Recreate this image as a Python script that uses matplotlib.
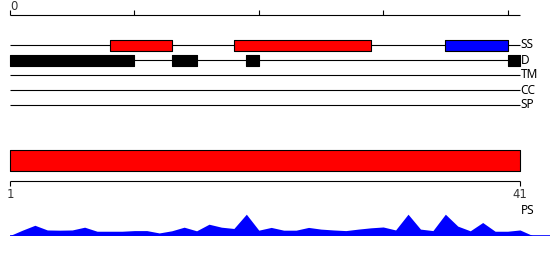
import numpy as np
import matplotlib
matplotlib.use('Agg')
import matplotlib.pyplot as plt

# sequence and track data
seq_len = 41
tracks = ['SS', 'D', 'TM', 'CC', 'SP']
top_ticks = [0, 10, 20, 30, 40]
range_labels = ['1', '41']

ss_starts = [8, 18, 35]
ss_ends = [13, 29, 40]
ss_kinds = ['helix', 'helix', 'strand']

dis_starts = [0, 13, 19, 40]
dis_ends = [10, 15, 20, 41]

ps_scores = [0.0, 0.25, 0.48, 0.26, 0.25, 0.26, 0.39, 0.2, 0.2, 0.2, 0.23,
             0.23, 0.12, 0.22, 0.39, 0.22, 0.53, 0.39, 0.33, 1.0, 0.25, 0.38,
             0.25, 0.25, 0.38, 0.3, 0.26, 0.23, 0.3, 0.36, 0.4, 0.26, 1.0,
             0.3, 0.23, 1.0, 0.44, 0.22, 0.61, 0.2, 0.2, 0.26, 0.0]

kind_colors = {'helix': 'red', 'strand': 'blue'}

W, H = 550, 260
unit = 510 / seq_len          # pixels per residue
x_left = -10 / unit
x_right = (W - 10) / unit
lw = 0.8
label_font = dict(family=['Noto Sans', 'DejaVu Sans'], fontsize=8.5, color='black')
tick_font = dict(family='DejaVu Sans', fontsize=8.4, color='#333333')

fig = plt.figure(figsize=(W / 100, H / 100), dpi=100)
ax = fig.add_axes([0, 0, 1, 1])
ax.set_xlim(x_left, x_right)
ax.set_ylim(H, 0)
ax.axis('off')

# top ruler
ax.hlines(15, 0, seq_len, color='black', lw=lw)
ax.vlines(top_ticks, 10, 15, color='black', lw=lw)
ax.text(top_ticks[0], 6, str(top_ticks[0]), ha='left', va='center', **tick_font)

# feature tracks
for i, name in enumerate(tracks):
    y = 45 + 15 * i
    ax.hlines(y, 0, seq_len, color='black', lw=lw, zorder=1)
    ax.text(seq_len + 0.05, y, name, ha='left', va='center', **label_font)

ax.broken_barh([(s, e - s) for s, e in zip(ss_starts, ss_ends)], (40, 10.5),
               facecolors=[kind_colors[k] for k in ss_kinds],
               edgecolor='black', lw=lw, zorder=2)
ax.broken_barh([(s, e - s) for s, e in zip(dis_starts, dis_ends)], (55, 10.5),
               facecolors='black', edgecolor='black', lw=lw, zorder=2)

# full-length range bar
ax.broken_barh([(0, seq_len)], (150, 20.5), facecolors='red',
               edgecolor='black', lw=lw, zorder=2)
ax.hlines(180.5, 0, seq_len, color='black', lw=lw)
ax.vlines([0, seq_len], 180.5, 186, color='black', lw=lw)
ax.text(0, 195, range_labels[0], ha='center', va='center', **tick_font)
ax.text(seq_len, 195, range_labels[1], ha='center', va='center', **tick_font)

ax.text(seq_len + 0.05, 211, 'PS', ha='left', va='center', **label_font)

# PS score profile
ax2 = fig.add_axes([0, (H - 235.5) / H, 1, 21.3 / H])
ax2.set_xlim(x_left, x_right)
ax2.set_ylim(0, 1)
ax2.axis('off')
xs = np.arange(len(ps_scores))
ax2.fill_between(xs, 0, ps_scores, color='blue', lw=0)
ax2.hlines(0, xs[0], x_right, color='blue', lw=1.2)

fig.savefig('out.png', dpi=100)
